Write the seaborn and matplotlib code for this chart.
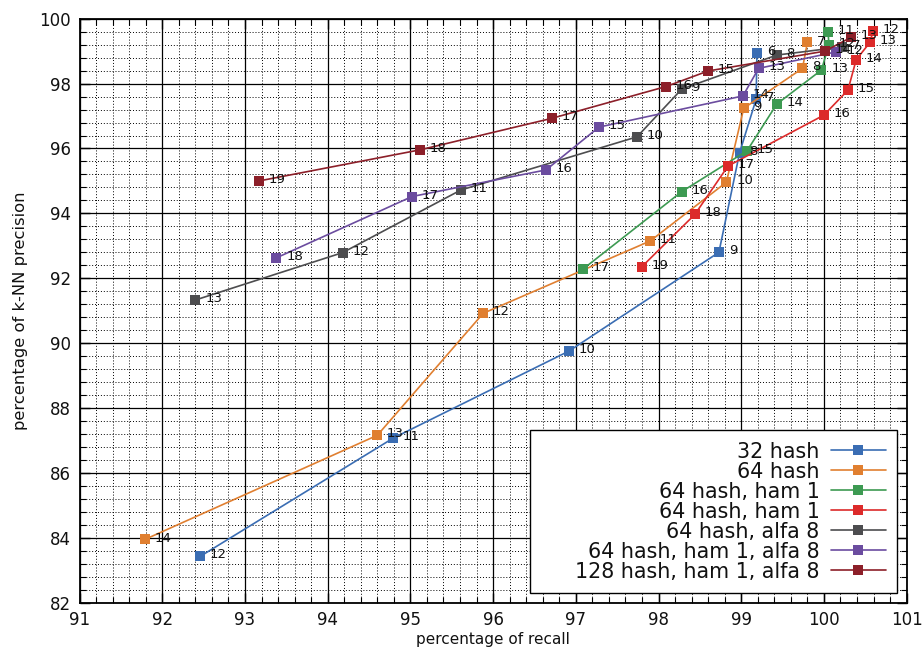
import matplotlib
matplotlib.use("Agg")
import matplotlib.pyplot as plt
import seaborn as sns
import numpy as np
from matplotlib.ticker import MultipleLocator
from matplotlib.patches import Rectangle

# ---- data (recall %, precision %, point labels) ----
names = ["32 hash", "64 hash", "64 hash, ham 1", "64 hash, ham 1",
         "64 hash, alfa 8", "64 hash, ham 1, alfa 8", "128 hash, ham 1, alfa 8"]

blue_x = [92.46, 94.79, 96.92, 98.73, 98.98, 99.18, 99.19]
blue_y = [83.43, 87.07, 89.76, 92.80, 95.87, 97.52, 98.94]
blue_l = [12, 11, 10, 9, 8, 7, 6]

orange_x = [91.79, 94.60, 95.88, 97.90, 98.82, 99.03, 99.74, 99.80]
orange_y = [83.95, 87.16, 90.92, 93.15, 94.96, 97.24, 98.47, 99.27]
orange_l = [14, 13, 12, 11, 10, 9, 8, 7]

green_x = [97.09, 98.28, 99.07, 99.43, 99.97, 100.06, 100.05]
green_y = [92.29, 94.67, 95.93, 97.37, 98.42, 99.20, 99.59]
green_l = [17, 16, 15, 14, 13, 12, 11]

red_x = [97.80, 98.44, 98.84, 100.00, 100.29, 100.39, 100.56, 100.59]
red_y = [92.36, 93.97, 95.46, 97.03, 97.80, 98.74, 99.28, 99.61]
red_l = [19, 18, 17, 16, 15, 14, 13, 12]

gray_x = [92.40, 94.18, 95.61, 97.74, 98.28, 99.43, 100.22]
gray_y = [91.33, 92.79, 94.72, 96.36, 97.83, 98.88, 99.13]
gray_l = [13, 12, 11, 10, 9, 8, 7]

purple_x = [93.38, 95.02, 96.64, 97.28, 99.02, 99.21, 100.15]
purple_y = [92.63, 94.52, 95.34, 96.66, 97.62, 98.47, 98.98]
purple_l = [18, 17, 16, 15, 14, 13, 12]

dred_x = [93.17, 95.12, 96.71, 98.09, 98.60, 100.01, 100.33]
dred_y = [95.00, 95.96, 96.93, 97.91, 98.39, 99.00, 99.43]
dred_l = [19, 18, 17, 16, 15, 14, 13]

series = [(blue_x, blue_y, blue_l), (orange_x, orange_y, orange_l),
          (green_x, green_y, green_l), (red_x, red_y, red_l),
          (gray_x, gray_y, gray_l), (purple_x, purple_y, purple_l),
          (dred_x, dred_y, dred_l)]
colors = ["#3a6db3", "#e07f30", "#3d9a52", "#dc2a2a", "#4d4d4f", "#6b4c9f", "#8c1f29"]

# ---- styling ----
sns.set_theme(style="white")
plt.rcParams["font.family"] = ["DejaVu Sans"]
plt.rcParams["text.color"] = "#111111"
plt.rcParams["axes.labelcolor"] = "#111111"
plt.rcParams["xtick.color"] = "black"
plt.rcParams["ytick.color"] = "black"

fig = plt.figure(figsize=(9.23, 6.48), dpi=100)
ax = fig.add_axes([0.0862, 0.0699, 0.8961, 0.9012])

for (xs, ys, ls), name, c in zip(series, names, colors):
    sns.lineplot(x=xs, y=ys, ax=ax, color=c, marker="s", markersize=7.5,
                 markeredgewidth=0, linewidth=1.2, sort=False, label=name,
                 estimator=None)
    for x, y, l in zip(xs, ys, ls):
        ax.annotate(str(l), (x, y), xytext=(7, 1), textcoords="offset points",
                    va="center", ha="left", fontsize=9.5, color="#111111")

ax.set_xlim(91, 101)
ax.set_ylim(82, 100)
ax.xaxis.set_major_locator(MultipleLocator(1))
ax.xaxis.set_minor_locator(MultipleLocator(0.2))
ax.yaxis.set_major_locator(MultipleLocator(2))
ax.yaxis.set_minor_locator(MultipleLocator(0.4))

ax.grid(which="major", color="black", linestyle="-", linewidth=0.9)
ax.grid(which="minor", color="black", linestyle=(0, (1, 2)), linewidth=0.7)
ax.set_axisbelow(True)

ax.tick_params(which="both", direction="in", top=True, right=True,
               bottom=True, left=True, colors="black", labelcolor="#111111")
ax.tick_params(which="major", length=7, width=1, labelsize=12, pad=6)
ax.tick_params(which="minor", length=4, width=0.8)
for s in ax.spines.values():
    s.set_color("black")
    s.set_linewidth(1.3)

ax.set_xlabel("percentage of recall", fontsize=11, labelpad=2)
ax.set_ylabel("percentage of k-NN precision", fontsize=11.8, labelpad=8)

# legend box (gnuplot style: white box, text right-aligned left of sample)
box = Rectangle((0.5446, 0.0166), 0.9883 - 0.5446, 0.2957 - 0.0166,
                transform=ax.transAxes, facecolor="white", edgecolor="black",
                linewidth=1.0, zorder=4)
ax.add_patch(box)
leg = ax.legend(loc="lower right", bbox_to_anchor=(0.9883, 0.0166),
                markerfirst=False, fontsize=14.9, labelspacing=0.0,
                handlelength=2.65, handletextpad=0.55, borderpad=0.55,
                borderaxespad=0.0, frameon=False)
for t in leg.get_texts():
    t.set_color("#111111")
leg.set_zorder(5)

fig.savefig("out.png", dpi=100)
